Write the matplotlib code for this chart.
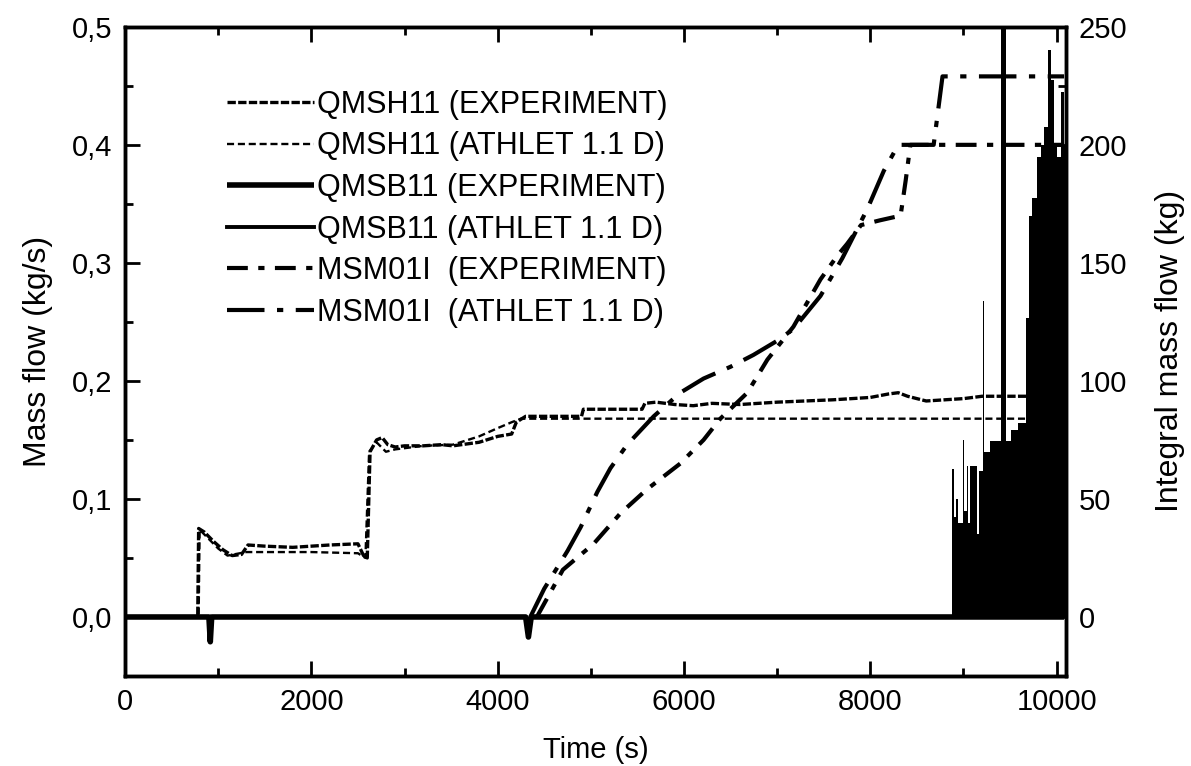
import numpy as np
import matplotlib.pyplot as plt
from matplotlib.ticker import MultipleLocator, FuncFormatter

plt.rcParams['font.family'] = ['Liberation Sans', 'DejaVu Sans']
plt.rcParams['font.size'] = 21

# QMSH11 mass flow (kg/s)
qmsh_exp_t = [0, 780, 790, 850, 950, 1050, 1150, 1250, 1320, 1500, 1800, 2000, 2200, 2500,
              2560, 2600, 2630, 2700, 2760, 2820, 2900, 3000, 3200, 3400, 3520, 3800, 4000,
              4150, 4200, 4300, 4500, 4900, 4920, 5550, 5580, 5700, 5900, 6100, 6300, 6600,
              7000, 7300, 7600, 7800, 8000, 8200, 8300, 8400, 8600, 8800, 9000, 9200, 9500, 9700]
qmsh_exp_v = [0, 0, 0.075, 0.072, 0.064, 0.057, 0.052, 0.053, 0.061, 0.060, 0.059, 0.060, 0.061, 0.062,
              0.052, 0.050, 0.140, 0.150, 0.152, 0.146, 0.144, 0.145, 0.145, 0.146, 0.145, 0.148, 0.153,
              0.155, 0.165, 0.170, 0.170, 0.170, 0.176, 0.176, 0.181, 0.182, 0.180, 0.179, 0.181, 0.180,
              0.182, 0.183, 0.184, 0.185, 0.186, 0.189, 0.190, 0.187, 0.183, 0.184, 0.185, 0.187, 0.187, 0.187]

qmsh_ath_t = [0, 790, 800, 900, 1000, 1100, 1300, 1500, 2000, 2500, 2580, 2620, 2700, 2800,
              2900, 3200, 3520, 3800, 4000, 4150, 4250, 9700]
qmsh_ath_v = [0, 0, 0.074, 0.066, 0.058, 0.052, 0.055, 0.055, 0.055, 0.054, 0.050, 0.140, 0.148, 0.140,
              0.142, 0.145, 0.146, 0.153, 0.160, 0.165, 0.168, 0.168]

# QMSB11 mass flow (kg/s)
qmsb_exp_t = [0, 900, 915, 930, 4300, 4330, 4360, 10080]
qmsb_exp_v = [0, 0, -0.021, 0, 0, -0.017, 0, 0]

# QMSB11 ATHLET oscillation bursts: start time, duration, peak (kg/s)
burst_t = [8875, 8900, 8925, 8945, 8990, 9010, 9035, 9050, 9075, 9140, 9165, 9210, 9225, 9290,
           9398, 9452, 9506, 9580, 9667, 9703, 9739, 9792, 9835, 9864, 9907, 9936, 9971,
           10007, 10043, 10079]
burst_w = [25, 25, 20, 45, 20, 25, 15, 25, 65, 25, 45, 15, 65, 108,
           54, 54, 74, 87, 36, 36, 53, 43, 29, 43, 29, 35, 36,
           36, 36, 16]
burst_peak = [0.125, 0.085, 0.10, 0.08, 0.15, 0.09, 0.128, 0.08, 0.128, 0.07, 0.124, 0.268, 0.14, 0.149,
              0.6, 0.149, 0.158, 0.164, 0.253, 0.34, 0.355, 0.39, 0.40, 0.415, 0.48, 0.455, 0.40,
              0.39, 0.445, 0.40]

# MSM01I integral mass flow (kg)
msm_exp_t = [4420, 4700, 5030, 5320, 5600, 5960, 6210, 6390, 6680, 6895, 7175, 7465, 7645,
             7750, 7900, 8100, 8325, 8380, 8430, 10080]
msm_exp_v = [0, 20, 31, 44, 54, 65, 75, 84, 95, 109, 123, 143, 153,
             158, 166, 168, 170, 185, 200, 200]

msm_ath_t = [4350, 4500, 4750, 4890, 5070, 5210, 5390, 5675, 5960, 6210, 6500, 6745, 7000,
             7175, 7465, 7700, 7970, 8145, 8300, 8680, 8775, 10080]
msm_ath_v = [0, 12, 28, 38, 53, 63, 73, 85, 95, 101, 106, 111, 117,
             122, 136, 152, 173, 189, 200, 200, 229, 229]

fig = plt.figure(figsize=(11.91, 7.66), dpi=100)
ax = fig.add_axes([0.105, 0.1175, 0.79, 0.8475])
ax2 = ax.twinx()

l1, = ax.plot(qmsh_exp_t, qmsh_exp_v, color='k', lw=2.4, dashes=(2.5, 0.7))
l2, = ax.plot(qmsh_ath_t, qmsh_ath_v, color='k', lw=1.7, dashes=(3, 1.6))
l3, = ax.plot(qmsb_exp_t, qmsb_exp_v, color='k', lw=4.0, solid_capstyle='butt')
ax.bar(burst_t, burst_peak, width=burst_w, align='edge', color='k', linewidth=0)
l4, = ax.plot([], [], color='k', lw=2.8)

l5, = ax2.plot(msm_exp_t, msm_exp_v, color='k', lw=3.0, dashes=(5, 2.5, 1.5, 2.5))
l6, = ax2.plot(msm_ath_t, msm_ath_v, color='k', lw=3.0, dashes=(9, 3, 1.5, 3))

ax.set_xlim(0, 10100)
ax.set_ylim(-0.05, 0.5)
ax2.set_ylim(-25, 250)

ax.xaxis.set_major_locator(MultipleLocator(2000))
ax.xaxis.set_minor_locator(MultipleLocator(1000))
ax.yaxis.set_major_locator(MultipleLocator(0.1))
ax.yaxis.set_minor_locator(MultipleLocator(0.05))
ax.yaxis.set_major_formatter(FuncFormatter(lambda v, p: f"{v:.1f}".replace('.', ',')))
ax2.yaxis.set_major_locator(MultipleLocator(50))
ax2.yaxis.set_minor_locator(MultipleLocator(25))

for a in (ax, ax2):
    a.tick_params(which='major', direction='in', length=11, width=2, labelsize=21, pad=9)
    a.tick_params(which='minor', direction='in', length=6, width=2)
    for s in a.spines.values():
        s.set_linewidth(2.5)
ax.tick_params(axis='x', which='both', top=True)

ax.set_xlabel('Time (s)', fontsize=21, labelpad=14)
ax.set_ylabel('Mass flow (kg/s)', fontsize=23, labelpad=14)
ax2.set_ylabel('Integral mass flow (kg)', fontsize=23, labelpad=20)

labels = ['QMSH11 (EXPERIMENT)', 'QMSH11 (ATHLET 1.1 D)', 'QMSB11 (EXPERIMENT)',
          'QMSB11 (ATHLET 1.1 D)', 'MSM01I  (EXPERIMENT)', 'MSM01I  (ATHLET 1.1 D)']
ax.legend([l1, l2, l3, l4, l5, l6], labels, loc='upper left', bbox_to_anchor=(0.095, 0.922),
          frameon=False, fontsize=22, handlelength=2.85, handletextpad=0.12,
          labelspacing=0.38, borderaxespad=0)

fig.savefig('out.png', dpi=100)
